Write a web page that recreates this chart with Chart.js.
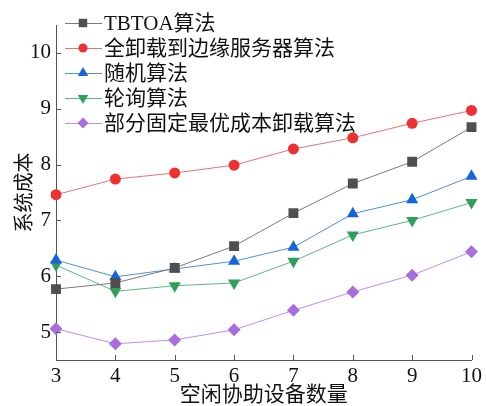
<!DOCTYPE html>
<html>
<head>
<meta charset="utf-8">
<script src="https://cdn.jsdelivr.net/npm/chart.js@4.4.1/dist/chart.umd.min.js"></script>
<style>
  html, body { margin: 0; padding: 0; background: #fff; }
</style>
</head>
<body>
<div style="width:486px;height:406px"><canvas id="costChart" width="486" height="406"></canvas></div>
<script>
// ---------------------------
// Data
// ---------------------------
const deviceCounts = ["3", "4", "5", "6", "7", "8", "9", "10"];
const seriesNames = ["TBTOA算法", "全卸载到边缘服务器算法", "随机算法", "轮询算法", "部分固定最优成本卸载算法"];
const tbtoaCost = [5.77, 5.88, 6.15, 6.54, 7.13, 7.66, 8.05, 8.67];
const fullOffloadCost = [7.46, 7.74, 7.85, 7.99, 8.28, 8.48, 8.74, 8.97];
const randomCost = [6.29, 5.99, 6.13, 6.27, 6.52, 7.12, 7.37, 7.79];
const roundRobinCost = [6.20, 5.73, 5.83, 5.88, 6.27, 6.74, 7.00, 7.32];
const partialFixedCost = [5.06, 4.79, 4.86, 5.04, 5.39, 5.72, 6.02, 6.44];
const yTicks = [5, 6, 7, 8, 9, 10];

const SERIF = "'Liberation Serif', 'Noto Sans CJK SC', serif";
Chart.defaults.font.family = SERIF;

// warm the fonts up on a scratch canvas before the chart measures anything
const scratch = document.createElement("canvas").getContext("2d");
["21px 'Liberation Serif'", "20px 'Liberation Serif'", "21px " + SERIF, "20px " + SERIF].forEach(f => {
    scratch.font = f;
    scratch.fillText("0123456789 TBTOA 系统成本空闲协助设备数量", 0, 20);
});

function makeSet(label, data, line, mark, style, radius, rotation) {
    return {
        label: label,
        data: data,
        borderColor: line,
        borderWidth: 1,
        backgroundColor: mark,
        pointBackgroundColor: mark,
        pointBorderColor: mark,
        pointBorderWidth: 0,
        pointStyle: style,
        pointRadius: radius,
        pointRotation: rotation || 0,
        tension: 0
    };
}

const lineSets = [
    makeSet(seriesNames[0], tbtoaCost, "#7a7a7a", "#4f4f4f", "rect", 7),
    makeSet(seriesNames[1], fullOffloadCost, "#ee7070", "#ee3030", "circle", 5.5),
    makeSet(seriesNames[2], randomCost, "#4f8fdf", "#1565d8", "triangle", 7),
    makeSet(seriesNames[3], roundRobinCost, "#5cb880", "#2ea05a", "triangle", 7, 180),
    makeSet(seriesNames[4], partialFixedCost, "#c08de8", "#a86fdc", "rectRot", 6.5)
];

// ---------------------------
// Inward tick marks + line/marker legend
// ---------------------------
const decorPlugin = {
    id: "decor",
    afterDraw(chart) {
        const ctx = chart.ctx;
        const x = chart.scales.x, y = chart.scales.y;
        const area = chart.chartArea;
        ctx.save();
        ctx.strokeStyle = "#555";
        ctx.lineWidth = 1;
        ctx.beginPath();
        yTicks.forEach(v => {
            const py = Math.round(y.getPixelForValue(v)) + 0.5;
            ctx.moveTo(area.left, py);
            ctx.lineTo(area.left + 5, py);
        });
        deviceCounts.forEach((c, i) => {
            const px = Math.round(x.getPixelForValue(i)) + 0.5;
            ctx.moveTo(px, area.bottom);
            ctx.lineTo(px, area.bottom - 5);
        });
        ctx.stroke();

        // legend
        chart.data.datasets.forEach((ds, i) => {
            const ly = 23 + i * 25;
            ctx.strokeStyle = ds.borderColor;
            ctx.lineWidth = 1;
            ctx.beginPath();
            ctx.moveTo(65, ly + 0.5);
            ctx.lineTo(102, ly + 0.5);
            ctx.stroke();
            ctx.fillStyle = ds.pointBackgroundColor;
            ctx.strokeStyle = ds.pointBorderColor;
            Chart.helpers.drawPoint(ctx, {
                pointStyle: ds.pointStyle,
                radius: ds.pointRadius - 1,
                rotation: ds.pointRotation,
                borderWidth: 0
            }, 83, ly);
            ctx.fillStyle = "#111";
            ctx.font = "21px " + SERIF;
            ctx.textBaseline = "middle";
            ctx.textAlign = "left";
            ctx.fillText(ds.label, 104, ly + 1);
        });
        ctx.restore();
    }
};

const costChart = new Chart(document.getElementById("costChart"), {
    type: "line",
    data: { labels: deviceCounts, datasets: lineSets },
    options: {
        responsive: false,
        animation: false,
        layout: { padding: { top: 25, right: 13, left: 0, bottom: 0 } },
        plugins: {
            legend: { display: false },
            tooltip: { enabled: false }
        },
        scales: {
            x: {
                offset: false,
                grid: { display: false, drawTicks: false },
                border: { display: true, color: "#555", width: 1 },
                ticks: {
                    color: "#111",
                    padding: 4,
                    maxRotation: 0,
                    font: { family: SERIF, size: 21 }
                },
                title: {
                    display: true,
                    text: "空闲协助设备数量",
                    color: "#111",
                    padding: { top: 0, bottom: 0 },
                    font: { family: SERIF, size: 21, lineHeight: 1.0 }
                },
                afterFit(scale) { scale.height = 46; }
            },
            y: {
                min: 4.5,
                max: 10.5,
                afterBuildTicks(scale) { scale.ticks = yTicks.map(v => ({ value: v })); },
                grid: { display: false, drawTicks: false },
                border: { display: true, color: "#555", width: 1 },
                ticks: {
                    color: "#111",
                    padding: 5,
                    font: { family: SERIF, size: 21 }
                },
                title: {
                    display: true,
                    text: "系统成本",
                    color: "#111",
                    padding: { top: 14, bottom: 0 },
                    font: { family: SERIF, size: 20, lineHeight: 1.2 }
                },
                afterFit(scale) { scale.width = 56; }
            }
        }
    },
    plugins: [decorPlugin]
});

// redraw once fonts have settled
const redraw = () => costChart.update("none");
if (document.fonts && document.fonts.ready) document.fonts.ready.then(redraw);
setTimeout(redraw, 150);
</script>
</body>
</html>
